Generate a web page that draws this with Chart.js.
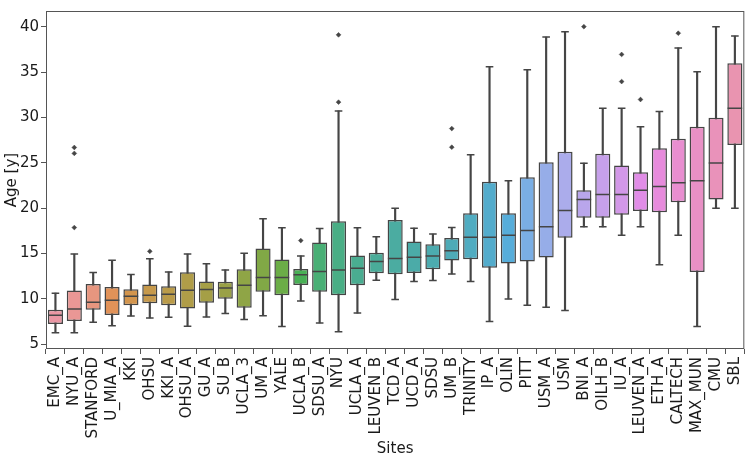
<!DOCTYPE html>
<html>
<head>
<meta charset="utf-8">
<script src="https://cdn.jsdelivr.net/npm/chart.js@4.4.0/dist/chart.umd.min.js"></script>
<style>
  html, body { margin: 0; padding: 0; background: #fff; }
</style>
</head>
<body>
<canvas id="boxChart" width="756" height="461"></canvas>
<script>
// Datos
const sites = ['EMC_A', 'NYU_A', 'STANFORD', 'U_MIA_A', 'KKI', 'OHSU', 'KKI_A', 'OHSU_A', 'GU_A', 'SU_B',
  'UCLA_3', 'UM_A', 'YALE', 'UCLA_B', 'SDSU_A', 'NYU', 'UCLA_A', 'LEUVEN_B', 'TCD_A', 'UCD_A',
  'SDSU', 'UM_B', 'TRINITY', 'IP_A', 'OLIN', 'PITT', 'USM_A', 'USM', 'BNI_A', 'OILH_B',
  'IU_A', 'LEUVEN_A', 'ETH_A', 'CALTECH', 'MAX_MUN', 'CMU', 'SBL'];
const whiskerLow = [6.26, 6.26, 7.41, 7.02, 8.10, 7.88, 7.95, 6.98, 7.99, 8.38,
  7.70, 8.13, 6.94, 9.75, 7.34, 6.37, 8.42, 12.05, 9.93, 11.91,
  12.02, 12.74, 11.91, 7.48, 9.97, 9.29, 9.07, 8.71, 17.93, 17.93,
  16.99, 17.93, 13.75, 16.99, 6.94, 19.98, 19.98];
const q1 = [7.23, 7.56, 8.78, 8.21, 9.29, 9.50, 9.29, 8.92, 9.57, 10.0,
  9.0, 10.76, 10.40, 11.52, 10.76, 10.40, 11.48, 12.81, 12.70, 12.85,
  13.25, 14.21, 14.36, 13.43, 13.89, 14.11, 14.54, 16.74, 18.93, 18.93,
  19.26, 19.69, 19.55, 20.63, 12.96, 20.95, 26.96];
const median = [8.17, 8.86, 9.61, 9.83, 10.29, 10.40, 10.51, 10.94, 11.01, 11.19,
  11.48, 12.35, 12.35, 12.64, 13.0, 13.18, 13.36, 14.11, 14.43, 14.58,
  14.72, 15.29, 16.77, 16.77, 16.99, 17.53, 17.93, 19.73, 20.95, 21.49,
  21.49, 21.96, 22.39, 22.79, 23.01, 24.98, 31.0];
const q3 = [8.78, 10.91, 11.62, 11.30, 11.05, 11.56, 11.37, 12.92, 11.91, 11.88,
  13.25, 15.55, 14.33, 13.29, 16.20, 18.54, 14.76, 15.08, 18.68, 16.31,
  16.02, 16.70, 19.44, 22.90, 19.44, 23.40, 25.06, 26.21, 21.96, 25.99,
  24.69, 23.94, 26.60, 27.65, 28.98, 29.95, 35.97];
const whiskerHigh = [10.62, 14.94, 12.89, 14.25, 12.67, 14.40, 12.96, 14.94, 13.86, 13.18,
  15.01, 18.83, 17.82, 14.72, 17.75, 30.71, 17.82, 16.85, 19.98, 17.78,
  17.13, 17.85, 25.89, 35.57, 23.01, 35.25, 38.85, 39.43, 24.95, 31.0,
  31.0, 28.98, 30.64, 37.66, 35.03, 40.0, 38.96];
const outlierSites = ['NYU_A', 'NYU_A', 'NYU_A', 'OHSU', 'UCLA_B', 'NYU', 'NYU', 'UM_B', 'UM_B',
  'BNI_A', 'IU_A', 'IU_A', 'LEUVEN_A', 'CALTECH'];
const outlierValues = [26.68, 26.03, 17.85, 15.23, 16.42, 39.10, 31.68, 28.77, 26.71,
  40.0, 36.94, 33.95, 31.97, 39.28];
const yTicks = [5, 10, 15, 20, 25, 30, 35, 40];

// Paleta husl (como seaborn) y desaturada
const M = [[3.2406, -1.5372, -0.4986], [-0.9689, 1.8758, 0.0415], [0.0557, -0.2040, 1.0570]];
function maxChroma(L, H) {
  const hrad = H * Math.PI / 180;
  const sinH = Math.sin(hrad), cosH = Math.cos(hrad);
  const sub1 = Math.pow(L + 16, 3) / 1560896;
  const sub2 = sub1 > 0.008856 ? sub1 : L / 903.3;
  let result = Infinity;
  for (const [m1, m2, m3] of M) {
    const top = (0.99915 * m1 + 1.05122 * m2 + 1.14460 * m3) * sub2;
    const rbottom = 0.86330 * m3 - 0.17266 * m2;
    const lbottom = 0.12949 * m3 - 0.38848 * m1;
    const bottom = (rbottom * sinH + lbottom * cosH) * sub2;
    for (const t of [0, 1]) {
      const C = L * (top - 1.05122 * t) / (bottom + 0.17266 * sinH * t);
      if (C > 0 && C < result) result = C;
    }
  }
  return result;
}
function huslToRgb(H, S, L) {
  const C = maxChroma(L, H) / 100 * S;
  const hrad = H * Math.PI / 180;
  const U = Math.cos(hrad) * C, V = Math.sin(hrad) * C;
  const t = (L + 16) / 116;
  const Y = t * t * t > 0.008856 ? t * t * t : (116 * t - 16) / 903.3;
  const varU = U / (13 * L) + 0.19784, varV = V / (13 * L) + 0.46834;
  const X = -(9 * Y * varU) / ((varU - 4) * varV - varU * varV);
  const Z = (9 * Y - 15 * varV * Y - varV * X) / (3 * varV);
  return M.map(r => {
    let c = r[0] * X + r[1] * Y + r[2] * Z;
    c = c <= 0.0031308 ? 12.92 * c : 1.055 * Math.pow(c, 1 / 2.4) - 0.055;
    return Math.min(1, Math.max(0, c));
  });
}
const n = sites.length;
let minLight = 1;
const boxColors = sites.map((s, i) => {
  const h = ((i / n + 0.01) % 1) * 359;
  const rgb = huslToRgb(h, 0.9 * 99, 0.7 * 99);
  const l = (Math.max(...rgb) + Math.min(...rgb)) / 2;
  minLight = Math.min(minLight, l);
  const d = rgb.map(c => Math.round((l + (c - l) * 0.75) * 255));
  return `rgb(${d[0]}, ${d[1]}, ${d[2]})`;
});
const g = Math.round(minLight * 0.6 * 255);
const gray = `rgb(${g}, ${g}, ${g})`;

// Marco alrededor del area del grafico
const frame = {
  id: 'frame',
  afterDraw(chart) {
    const { ctx, chartArea: a } = chart;
    ctx.save();
    ctx.strokeStyle = '#555';
    ctx.lineWidth = 1;
    ctx.strokeRect(a.left + 0.5, a.top + 0.5, a.right - a.left - 1, a.bottom - a.top - 1);
    ctx.restore();
  }
};

const ctx = document.getElementById('boxChart').getContext('2d');
new Chart(ctx, {
  type: 'bar',
  data: {
    labels: sites,
    datasets: [
      {
        // bigotes
        data: sites.map((s, i) => [whiskerLow[i], whiskerHigh[i]]),
        backgroundColor: gray,
        barThickness: 1.5,
        grouped: false,
        order: 4
      },
      {
        // cajas
        data: sites.map((s, i) => [q1[i], q3[i]]),
        backgroundColor: boxColors,
        borderColor: gray,
        borderWidth: 1.5,
        borderSkipped: false,
        barPercentage: 0.8,
        categoryPercentage: 1,
        grouped: false,
        order: 3
      },
      {
        // topes de los bigotes
        type: 'line',
        data: sites.flatMap((s, i) => [{ x: s, y: whiskerLow[i] }, { x: s, y: whiskerHigh[i] }]),
        showLine: false,
        pointStyle: 'line',
        pointRadius: 3.8,
        pointBorderColor: gray,
        pointBorderWidth: 1.5,
        order: 2
      },
      {
        // medianas
        type: 'line',
        data: median,
        showLine: false,
        pointStyle: 'line',
        pointRadius: 7.3,
        pointBorderColor: gray,
        pointBorderWidth: 1.5,
        order: 1
      },
      {
        // valores atipicos
        type: 'line',
        data: outlierValues.map((v, i) => ({ x: outlierSites[i], y: v })),
        showLine: false,
        pointStyle: 'rectRot',
        pointRadius: 2.4,
        pointBackgroundColor: gray,
        pointBorderColor: gray,
        pointBorderWidth: 0.5,
        order: 0
      }
    ]
  },
  options: {
    responsive: false,
    animation: false,
    events: [],
    layout: { padding: { top: 4, right: 3, left: 0, bottom: 0 } },
    plugins: {
      legend: { display: false },
      tooltip: { enabled: false }
    },
    scales: {
      x: {
        type: 'category',
        offset: true,
        grid: { display: true, drawOnChartArea: false, drawTicks: true, tickLength: 5, color: '#555' },
        border: { display: false },
        ticks: {
          autoSkip: false,
          minRotation: 90,
          maxRotation: 90,
          padding: 3,
          color: '#1a1a1a',
          font: { family: 'DejaVu Sans', size: 15 }
        },
        title: {
          display: true,
          text: 'Sites',
          color: '#1a1a1a',
          padding: { top: 3, bottom: 3 },
          font: { family: 'DejaVu Sans', size: 15 }
        },
        afterFit(scale) { scale.height = 112; }
      },
      y: {
        min: 4.46,
        max: 41.73,
        afterBuildTicks(scale) { scale.ticks = yTicks.map(v => ({ value: v })); },
        grid: { display: true, drawOnChartArea: false, drawTicks: true, tickLength: 5, color: '#555' },
        border: { display: false },
        ticks: {
          padding: 2,
          color: '#1a1a1a',
          font: { family: 'DejaVu Sans', size: 15 }
        },
        title: {
          display: true,
          text: 'Age [y]',
          color: '#1a1a1a',
          padding: { top: 3, bottom: 3 },
          font: { family: 'DejaVu Sans', size: 15 }
        },
        afterFit(scale) { scale.width = 46; }
      }
    }
  },
  plugins: [frame]
});
</script>
</body>
</html>
